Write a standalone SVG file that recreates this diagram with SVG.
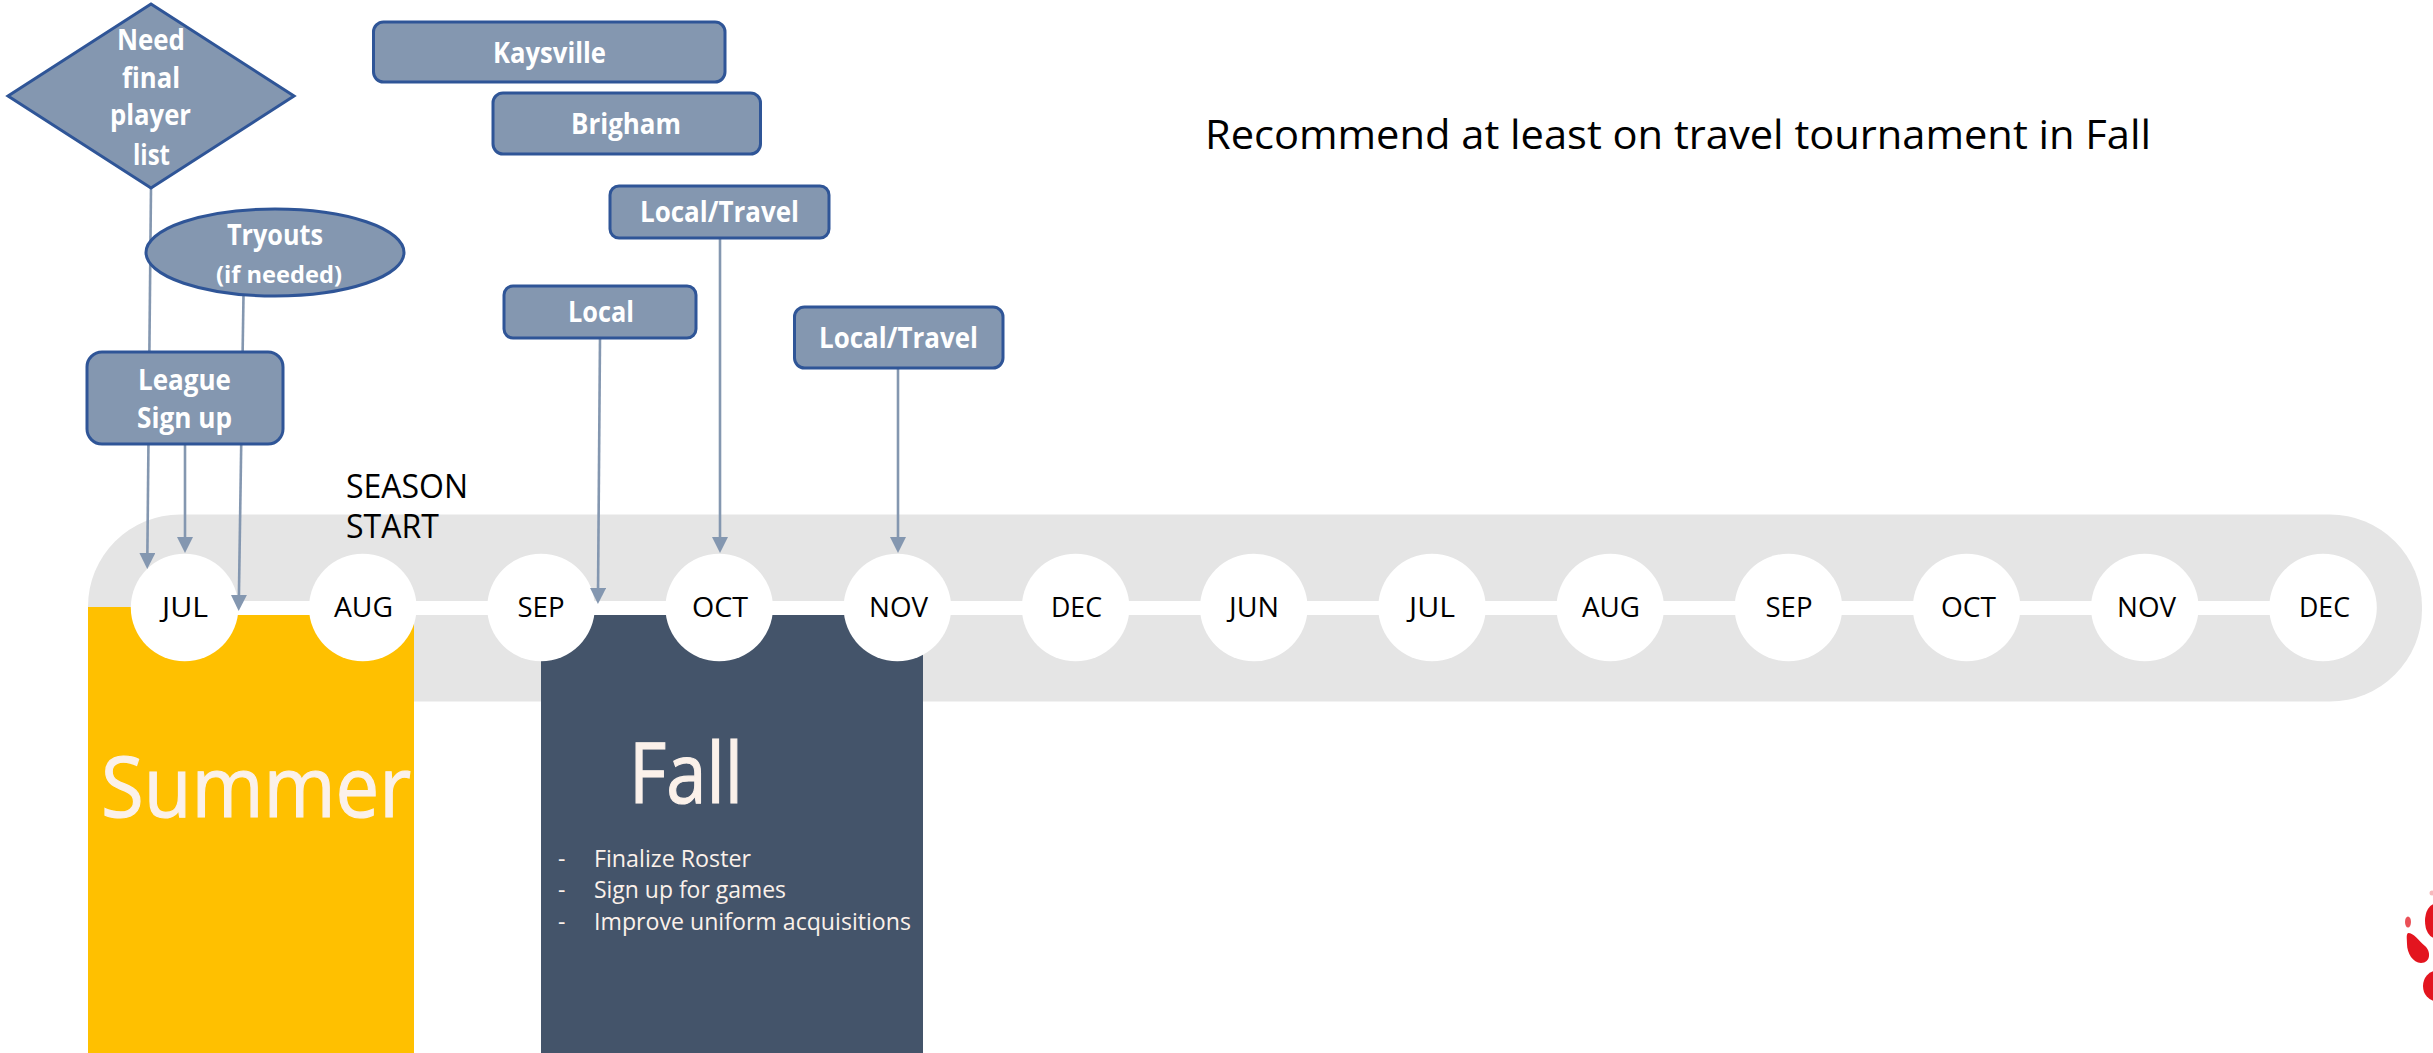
<svg xmlns="http://www.w3.org/2000/svg" width="2433" height="1053" viewBox="0 0 2433 1053">
<style>
text{font-family:"Open Sans","Noto Sans","Liberation Sans",sans-serif}
.n{fill:#8497B0;stroke:#2F5597;stroke-width:3}
.b{fill:#fff;font-weight:700;font-size:28px}
.m{fill:#000;font-size:28px}
.c{fill:#fff}
.w{fill:#FBF1EA}
.h{font-size:85px;stroke:#FBF1EA;stroke-width:1.2}
.l{fill:none;stroke:#8497B0;stroke-width:2.6;marker-end:url(#a)}
.p{fill:#E3151F}
</style>
<defs><marker id="a" markerUnits="userSpaceOnUse" markerWidth="16" markerHeight="16" viewBox="0 0 16 16" refX="8" refY="8" orient="auto"><path d="M0 0L16 8L0 16z" fill="#8497B0"/></marker></defs>
<rect width="2433" height="1053" fill="#fff"/>
<g id="timeline-band"><rect x="88" y="514.500" width="2334" height="187" rx="92" fill="#E5E5E5"/></g>
<g id="summer"><rect x="88" y="607" width="326" height="446" fill="#FFC000"/><text class="w h" x="101" y="817" textLength="310" lengthAdjust="spacingAndGlyphs">Summer</text></g>
<g id="fall"><rect x="541" y="607" width="382" height="446" fill="#44546A"/><text class="w h" x="629" y="803" textLength="114" lengthAdjust="spacingAndGlyphs">Fall</text>
<g class="w" font-size="23"><text x="558" y="867">-</text><text x="594" y="867" textLength="157" lengthAdjust="spacingAndGlyphs">Finalize Roster</text><text x="558" y="898">-</text><text x="594" y="898" textLength="192" lengthAdjust="spacingAndGlyphs">Sign up for games</text><text x="558" y="930">-</text><text x="594" y="930" textLength="317" lengthAdjust="spacingAndGlyphs">Improve uniform acquisitions</text></g></g>
<rect id="timeline-line" x="184" y="601" width="2140" height="14" fill="#fff"/>
<g id="m-jul1"><circle class="c" cx="184.600" cy="607.500" r="53.800"/><text class="m" x="162" y="617" textLength="46" lengthAdjust="spacingAndGlyphs">JUL</text></g>
<g id="m-aug1"><circle class="c" cx="362.800" cy="607.500" r="53.800"/><text class="m" x="334" y="617" textLength="59" lengthAdjust="spacingAndGlyphs">AUG</text></g>
<g id="m-sep1"><circle class="c" cx="541" cy="607.500" r="53.800"/><text class="m" x="517.500" y="617" textLength="47" lengthAdjust="spacingAndGlyphs">SEP</text></g>
<g id="m-oct1"><circle class="c" cx="719.200" cy="607.500" r="53.800"/><text class="m" x="692" y="617" textLength="56" lengthAdjust="spacingAndGlyphs">OCT</text></g>
<g id="m-nov1"><circle class="c" cx="897.400" cy="607.500" r="53.800"/><text class="m" x="869" y="617" textLength="59" lengthAdjust="spacingAndGlyphs">NOV</text></g>
<g id="m-dec1"><circle class="c" cx="1075.600" cy="607.500" r="53.800"/><text class="m" x="1051" y="617" textLength="51" lengthAdjust="spacingAndGlyphs">DEC</text></g>
<g id="m-jun"><circle class="c" cx="1253.800" cy="607.500" r="53.800"/><text class="m" x="1229" y="617" textLength="50" lengthAdjust="spacingAndGlyphs">JUN</text></g>
<g id="m-jul2"><circle class="c" cx="1432" cy="607.500" r="53.800"/><text class="m" x="1409" y="617" textLength="46" lengthAdjust="spacingAndGlyphs">JUL</text></g>
<g id="m-aug2"><circle class="c" cx="1610.200" cy="607.500" r="53.800"/><text class="m" x="1582" y="617" textLength="58" lengthAdjust="spacingAndGlyphs">AUG</text></g>
<g id="m-sep2"><circle class="c" cx="1788.400" cy="607.500" r="53.800"/><text class="m" x="1765.500" y="617" textLength="47" lengthAdjust="spacingAndGlyphs">SEP</text></g>
<g id="m-oct2"><circle class="c" cx="1966.600" cy="607.500" r="53.800"/><text class="m" x="1941" y="617" textLength="55" lengthAdjust="spacingAndGlyphs">OCT</text></g>
<g id="m-nov2"><circle class="c" cx="2144.800" cy="607.500" r="53.800"/><text class="m" x="2117" y="617" textLength="59" lengthAdjust="spacingAndGlyphs">NOV</text></g>
<g id="m-dec2"><circle class="c" cx="2323" cy="607.500" r="53.800"/><text class="m" x="2299" y="617" textLength="51" lengthAdjust="spacingAndGlyphs">DEC</text></g>
<g id="connectors">
<path class="l" d="M151 188L147.300 561"/>
<path class="l" d="M185 444V545"/>
<path class="l" d="M243.500 295L238.800 603"/>
<path class="l" d="M600 338L598 596"/>
<path class="l" d="M720 238V545"/>
<path class="l" d="M898 368V545"/>
</g>
<g id="need-list"><path class="n" d="M151 4L294 96L151 188L8 96z"/><text class="b" x="117" y="50" textLength="68" lengthAdjust="spacingAndGlyphs">Need</text><text class="b" x="122" y="88" textLength="58" lengthAdjust="spacingAndGlyphs">final</text><text class="b" x="110" y="125" textLength="81" lengthAdjust="spacingAndGlyphs">player</text><text class="b" x="133" y="165" textLength="37" lengthAdjust="spacingAndGlyphs">list</text></g>
<g id="tryouts"><ellipse class="n" cx="275" cy="252.500" rx="129" ry="43.500"/><text class="b" x="227" y="244.500" textLength="96" lengthAdjust="spacingAndGlyphs">Tryouts</text><text class="b" x="216" y="283" style="font-size:24px" textLength="126" lengthAdjust="spacingAndGlyphs">(if needed)</text></g>
<g id="league"><rect class="n" x="87" y="352" width="196" height="92" rx="15"/><text class="b" x="138" y="390" textLength="93" lengthAdjust="spacingAndGlyphs">League</text><text class="b" x="137" y="428" textLength="95" lengthAdjust="spacingAndGlyphs">Sign up</text></g>
<g id="kaysville"><rect class="n" x="373.500" y="22" width="351.500" height="60" rx="10"/><text class="b" x="493" y="63" textLength="113" lengthAdjust="spacingAndGlyphs">Kaysville</text></g>
<g id="brigham"><rect class="n" x="493" y="93" width="267.500" height="61" rx="10"/><text class="b" x="571" y="134" textLength="110" lengthAdjust="spacingAndGlyphs">Brigham</text></g>
<g id="oct-game"><rect class="n" x="610" y="186" width="219" height="52" rx="9"/><text class="b" x="640" y="222" textLength="159" lengthAdjust="spacingAndGlyphs">Local/Travel</text></g>
<g id="sep-game"><rect class="n" x="504" y="286" width="192" height="52" rx="9"/><text class="b" x="568" y="322" textLength="66" lengthAdjust="spacingAndGlyphs">Local</text></g>
<g id="nov-game"><rect class="n" x="794.500" y="307" width="208.500" height="61" rx="10"/><text class="b" x="819" y="348" textLength="159" lengthAdjust="spacingAndGlyphs">Local/Travel</text></g>
<g id="season-start"><text class="m" style="font-size:32px"><tspan x="346" y="498">SEASON</tspan><tspan x="346" y="538">START</tspan></text></g>
<g id="note"><text class="m" x="1205" y="149" style="font-size:40px" textLength="946" lengthAdjust="spacingAndGlyphs">Recommend at least on travel tournament in Fall</text></g>
<g id="paw"><ellipse class="p" cx="2408" cy="922" rx="3" ry="5.500" fill-opacity=".75"/><path class="p" d="M2408 933C2414 933 2418 940 2425 946C2431 951 2431 963 2421 963C2413 963 2407 953 2407 944C2407 938 2406 935 2408 933z"/><ellipse class="p" cx="2435" cy="921" rx="10" ry="17"/><ellipse class="p" cx="2436" cy="986" rx="13" ry="15"/><circle class="p" cx="2432" cy="893" r="2.500" fill-opacity=".3"/></g>
</svg>
